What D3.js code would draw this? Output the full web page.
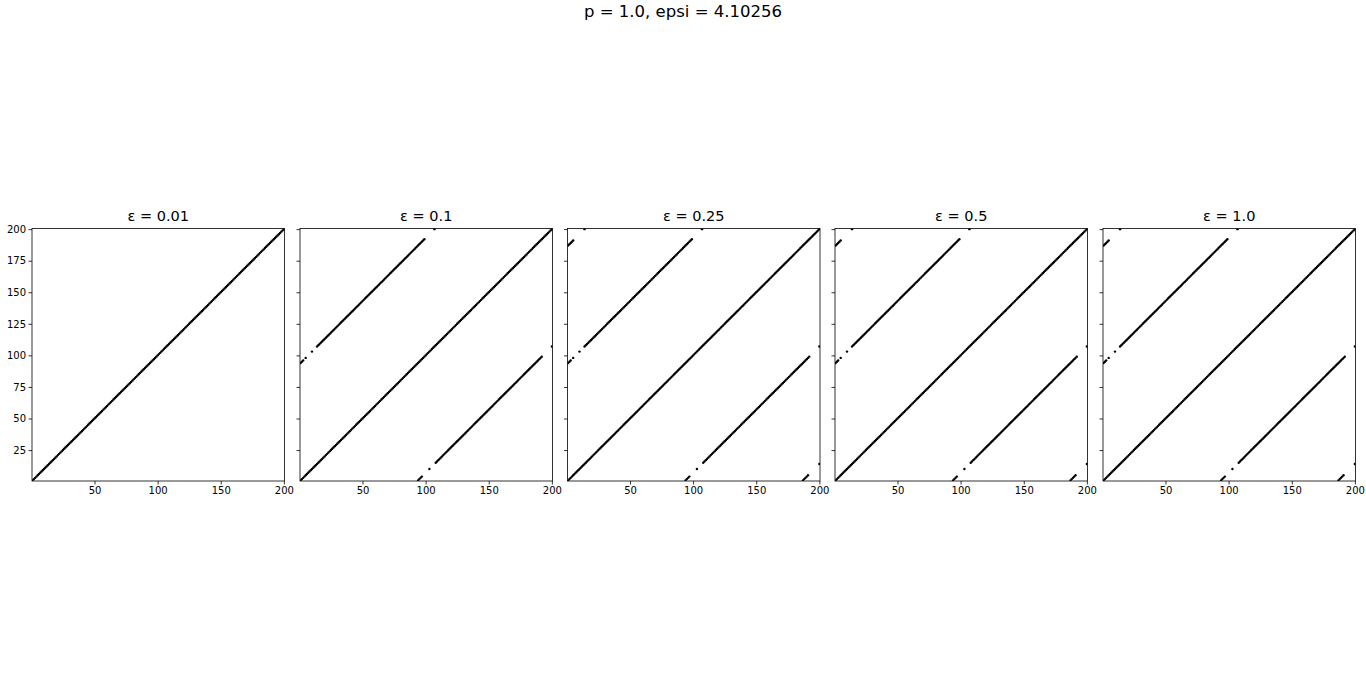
<!DOCTYPE html>
<html>
<head>
<meta charset="utf-8">
<script src="https://cdn.jsdelivr.net/npm/d3@7"></script>
<style>
  html, body { margin: 0; padding: 0; background: #fff; }
  svg { display: block; }
  text { font-family: "DejaVu Sans", sans-serif; fill: #000; }
</style>
</head>
<body>
<svg id="chart" width="1366" height="693"></svg>
<script>
// ---- data ----
const suptitle = "p = 1.0, epsi = 4.10256";
const panelTitles = ["ε = 0.01", "ε = 0.1", "ε = 0.25", "ε = 0.5", "ε = 1.0"];
const xTicks = [50, 100, 150, 200];
const yTicks = [25, 50, 75, 100, 125, 150, 175, 200];
const axisDomain = [0.5, 200.5];
// nonzero entries, as runs of consecutive (x, y) points:
// [xStart, xEnd, yAtXStart]  (each run steps +1 in x and +1 in y)
const runs_eps001 = [[1, 200, 1]];
const runs_eps01 = [
  [1, 200, 1],
  [1, 3, 94], [5, 5, 98], [10, 10, 103], [14, 99, 107], [107, 107, 200],
  [94, 97, 1], [103, 103, 10], [108, 192, 15], [200, 200, 107]
];
const runs_eps025 = [
  [1, 200, 1],
  [1, 3, 94], [5, 5, 98], [10, 10, 103], [14, 99, 107], [107, 107, 200],
  [94, 97, 1], [103, 103, 10], [108, 192, 15], [200, 200, 107],
  [1, 5, 187], [14, 14, 200], [187, 191, 1], [200, 200, 14]
];
const runs_eps05 = [
  [1, 200, 1],
  [1, 3, 94], [5, 5, 98], [10, 10, 103], [14, 99, 107], [107, 107, 200],
  [94, 97, 1], [103, 103, 10], [108, 192, 15], [200, 200, 107],
  [1, 5, 187], [14, 14, 200], [187, 191, 1], [200, 200, 14]
];
const runs_eps10 = [
  [1, 200, 1],
  [1, 3, 94], [5, 5, 98], [10, 10, 103], [14, 99, 107], [107, 107, 200],
  [94, 97, 1], [103, 103, 10], [108, 192, 15], [200, 200, 107],
  [1, 5, 187], [14, 14, 200], [187, 191, 1], [200, 200, 14]
];
const panelRuns = [runs_eps001, runs_eps01, runs_eps025, runs_eps05, runs_eps10];

// ---- layout ----
const svg = d3.select("#chart");
const panelLefts = [32, 300, 567.5, 835, 1103];
const panelW = 252.5, axTop = 228.5, axBottom = 481;

svg.append("text").attr("x", 683).attr("y", 17).attr("text-anchor", "middle")
  .style("font-size", "16.5px").text(suptitle);

function expand(runs) {
  const pts = [];
  runs.forEach(([x0, x1, y0]) => {
    for (let x = x0; x <= x1; x++) pts.push([x, y0 + (x - x0)]);
  });
  return pts;
}

panelRuns.forEach((runs, i) => {
  const left = panelLefts[i], right = left + panelW;
  const x = d3.scaleLinear().domain(axisDomain).range([left, right]);
  const y = d3.scaleLinear().domain(axisDomain).range([axBottom, axTop]);
  const g = svg.append("g");
  const clipId = "clip" + i;
  svg.append("clipPath").attr("id", clipId).append("rect")
    .attr("x", left).attr("y", axTop).attr("width", panelW).attr("height", axBottom - axTop);

  g.append("g").attr("clip-path", `url(#${clipId})`)
    .selectAll("circle").data(expand(runs)).join("circle")
    .attr("cx", d => x(d[0])).attr("cy", d => y(d[1]))
    .attr("r", 1.2).attr("fill", "#000");

  const xa = g.append("g").attr("transform", `translate(0,${axBottom})`)
    .call(d3.axisBottom(x).tickValues(xTicks).tickSize(3.5).tickPadding(2.5));
  const ya = g.append("g").attr("transform", `translate(${left},0)`)
    .call(d3.axisLeft(y).tickValues(yTicks).tickSize(3.5).tickPadding(2.5)
      .tickFormat(i === 0 ? d3.format("d") : () => ""));
  [xa, ya].forEach(a => {
    a.select(".domain").remove();
    a.selectAll("line").attr("stroke", "#000").attr("stroke-width", 0.8);
    a.selectAll("text").style("font-size", "10px").attr("font-family", "DejaVu Sans").attr("fill", "#000");
  });

  g.append("rect").attr("x", left).attr("y", axTop).attr("width", panelW).attr("height", axBottom - axTop)
    .attr("fill", "none").attr("stroke", "#000").attr("stroke-width", 0.8);

  g.append("text").attr("x", (left + right) / 2).attr("y", axTop - 8)
    .attr("text-anchor", "middle").style("font-size", "14.5px").text(panelTitles[i]);
});
</script>
</body>
</html>
